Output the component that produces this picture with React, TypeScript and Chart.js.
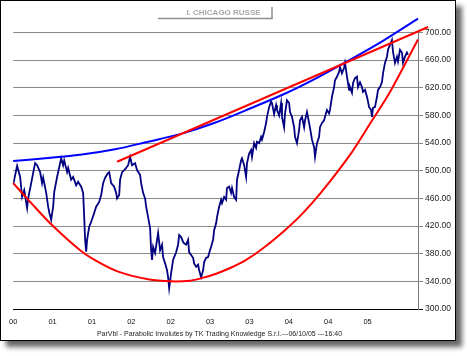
import React, { useEffect, useRef } from "react";
import { Chart, registerables } from "chart.js";

Chart.register(...registerables);

const TITLE = "I. CHICAGO RUSSE";
const FOOTER = "ParVbl - Parabolic Involutes by TK Trading Knowledge S.r.l.---06/10/05 ---16:40";

// x axis: weeks since the start of the series (Oct 2000)
const xMaxWeek = 267.3;
const xTickWeeks = [0, 26, 52, 78, 104, 130, 156, 182, 208, 234];
const xTickLabels = ["00", "01", "01", "02", "02", "03", "03", "04", "04", "05"];
const yTickValues = [300, 340, 380, 420, 460, 500, 540, 580, 620, 660, 700];

const priceWeeks = [
  0, 2.6, 4.6, 5.9, 7.3, 9.2, 9.9, 11.9, 13.2, 14.5, 15.8, 17.8, 19.1, 19.8, 21.8, 23.1, 23.8, 25.1, 26.4, 27.1,
  29.0, 30.4, 31.7, 33.0, 33.7, 35.6, 36.3, 38.3, 39.6, 41.6,
  42.9, 44.9, 46.2, 46.9, 47.5, 48.2, 48.8, 50.2, 51.5, 53.5, 54.8, 56.8, 58.1, 59.4, 60.7, 62.7, 63.4, 64.7, 66.7,
  68.0, 68.6, 70.0, 70.6, 71.9, 73.3, 74.6, 75.9, 77.2, 78.5, 80.5, 81.8, 83.8, 84.5, 85.8, 87.1, 87.8, 89.1,
  90.4, 91.1, 91.7, 92.4, 93.7, 95.0, 95.7, 97.0, 98.3, 99.0, 100.3, 101.6, 102.3, 103.0, 104.3, 105.6, 106.3,
  107.6, 108.9, 109.6, 110.9, 112.2, 112.9, 114.2, 115.5, 116.2, 117.5, 118.8, 119.5, 120.8, 122.1, 122.8, 124.1,
  125.4, 126.1, 127.4, 128.7, 129.4, 130.7, 132.0,
  132.7, 134.0, 134.6, 136.0, 137.3, 137.9, 139.3, 140.6, 141.2, 142.6, 143.9, 144.5, 145.9, 147.2, 147.8, 149.2,
  150.5, 151.1, 152.5, 153.8, 154.4, 155.8, 157.1, 157.7, 159.1, 160.4, 161.0, 162.4, 163.7, 164.3, 165.7, 167.0,
  167.6, 169.0, 170.3, 170.9, 172.3, 173.6, 174.2, 175.6, 176.9,
  177.5, 178.9, 179.5, 180.8, 182.2, 182.8, 184.1, 185.5, 186.1, 187.4, 188.8, 189.4, 190.7, 192.1, 192.7, 194.0,
  195.4, 196.0, 197.3, 198.7, 199.3, 200.6, 202.0, 202.6, 203.9, 205.3, 205.9, 207.2, 208.6, 209.2, 210.5, 211.9,
  212.5, 213.8, 215.2, 215.8, 217.1, 218.5, 219.1, 220.4, 221.8,
  222.4, 223.7, 224.4, 225.7, 227.0, 227.7, 229.0, 230.3, 231.0, 232.3, 233.6, 234.3, 235.0, 236.3, 236.9, 237.6,
  238.9, 240.2, 240.9, 242.2, 243.5, 244.2, 245.5, 246.8, 247.5, 248.8, 250.1, 250.8, 252.1, 253.4, 254.1, 255.4,
  256.7, 257.4, 258.7, 260.0, 260.7,
];

const priceValues = [
  480, 507, 491, 462, 472, 446, 460, 482, 497, 511, 508, 498, 482, 490, 468, 448, 440, 429, 448, 469,
  491, 505, 518, 508, 515, 498, 504, 487, 491, 479,
  484, 477, 468, 433, 400, 383, 400, 419, 426, 439, 448, 455, 465, 482, 490, 497, 498, 482, 477,
  468, 460, 465, 487, 498, 501, 504, 508, 520, 508, 511, 501, 494, 482, 468, 460, 448, 433,
  417, 385, 371, 390, 381, 400, 410, 385, 393, 375, 366, 356, 346, 330, 352, 371, 375,
  382, 393, 407, 404, 397, 395, 393, 400, 382, 378, 374, 366, 361, 364, 356, 346,
  356, 368, 374, 375, 381, 390, 400,
  414, 424, 433, 448, 458, 453, 462, 458, 475, 477, 468, 475, 462, 458, 487, 501,
  515, 518, 508, 491, 511, 525, 530, 520, 540, 533, 542, 540, 549, 545, 556, 569,
  578, 592, 600, 598, 582, 595, 588, 580, 598,
  578, 563, 583, 602, 598, 585, 578, 563, 549, 540, 559, 573, 578, 563, 573, 585,
  569, 562, 545, 534, 520, 540, 549, 563, 569, 573, 578, 588, 583, 588, 607, 621,
  631, 636, 643, 650, 641, 649, 656, 636, 617,
  621, 613, 627, 634, 636, 621, 628, 621, 614, 617, 607, 600, 592, 588, 578, 591,
  592, 607, 617, 621, 628, 641, 656, 665, 675, 682, 689, 672, 656, 665, 658, 675,
  671, 656, 665, 671, 668,
];

// lower parabolic involute (red)
const lowerArcWeeks = [0, 11.2, 24.4, 44.2, 56.1, 69.3, 89.1, 104.3, 116.8, 125.0, 134.0, 144.0, 153.8, 165.0, 178.9, 191.0, 203.9, 223.7, 235.6, 248.8, 267.3];
const lowerArcValues = [482, 455, 424, 385, 368, 354, 343, 340, 341, 345, 351, 360, 371, 388, 413, 438, 470, 527, 568, 614, 690];

// upper parabolic involute (blue)
const upperArcWeeks = [0, 21.1, 44.2, 67.3, 89.1, 110.2, 132.7, 156.4, 178.9, 199.3, 221.1, 244.2, 267.3];
const upperArcValues = [514, 518, 523, 531, 542, 553, 569, 590, 611, 633, 659, 688, 720];

// upper tangent (red)
const tangentWeeks = [68.6, 274];
const tangentValues = [513, 708];

const toPoints = (xs: number[], ys: number[]) =>
  xs.slice(0, Math.min(xs.length, ys.length)).map((x, i) => ({ x, y: ys[i] }));

const FONT = '"Liberation Sans", Arial, sans-serif';

const decorPlugin = {
  id: "decor",
  afterDraw(chart: any) {
    const ctx = chart.ctx as CanvasRenderingContext2D;
    ctx.save();
    // title box with bevel
    ctx.strokeStyle = "#8e8e8e";
    ctx.lineWidth = 1.5;
    ctx.beginPath();
    ctx.moveTo(157, 17.5);
    ctx.lineTo(271, 17.5);
    ctx.lineTo(271, 6);
    ctx.stroke();
    ctx.font = `bold 8px ${FONT}`;
    ctx.fillStyle = "#a8a8a8";
    ctx.textAlign = "center";
    ctx.textBaseline = "middle";
    ctx.fillText(TITLE, 222.5, 12);
    ctx.font = `7px ${FONT}`;
    ctx.fillStyle = "#222";
    ctx.fillText(FOOTER, 218.5, 333);
    ctx.restore();
  },
};

export default function App() {
  const ref = useRef<HTMLCanvasElement | null>(null);

  useEffect(() => {
    if (!ref.current) return;
    const chart = new Chart(ref.current, {
      type: "line",
      data: {
        datasets: [
          {
            data: toPoints(priceWeeks, priceValues),
            borderColor: "#000080",
            borderWidth: 1.8,
            pointRadius: 0,
            tension: 0,
            order: 4,
          },
          {
            data: toPoints(lowerArcWeeks, lowerArcValues),
            borderColor: "#ff0000",
            borderWidth: 2,
            pointRadius: 0,
            tension: 0.3,
            clip: false,
            order: 3,
          },
          {
            data: toPoints(upperArcWeeks, upperArcValues),
            borderColor: "#0000ff",
            borderWidth: 2,
            pointRadius: 0,
            tension: 0.3,
            clip: false,
            order: 2,
          },
          {
            data: toPoints(tangentWeeks, tangentValues),
            borderColor: "#ff0000",
            borderWidth: 2,
            pointRadius: 0,
            clip: false,
            order: 1,
          },
        ] as any,
      },
      options: {
        animation: false,
        responsive: false,
        events: [],
        layout: { padding: { left: 12, top: 31.5, right: 0, bottom: 0 } },
        plugins: {
          legend: { display: false },
          tooltip: { enabled: false },
          title: { display: false },
        },
        scales: {
          x: {
            type: "linear",
            min: 0,
            max: xMaxWeek,
            grid: { display: false, drawTicks: false },
            border: { display: true, color: "#000", width: 1 },
            afterBuildTicks: (s: any) => {
              s.ticks = xTickWeeks.map((v) => ({ value: v }));
            },
            afterFit: (s: any) => {
              s.height = 31;
            },
            ticks: {
              autoSkip: false,
              maxRotation: 0,
              padding: 8,
              color: "#111",
              font: { family: FONT, size: 7.5 },
              callback: (_v: any, i: number) => xTickLabels[i],
            },
          },
          y: {
            position: "right",
            min: 300,
            max: 700,
            afterBuildTicks: (s: any) => {
              s.ticks = yTickValues.map((v) => ({ value: v }));
            },
            afterFit: (s: any) => {
              s.width = 37;
            },
            grid: {
              color: (c: any) => (c.tick && c.tick.value === 300 ? "#000" : "#8a8a8a"),
              tickLength: 5,
              drawTicks: true,
            },
            border: { display: true, color: "#7a7a7a", width: 1 },
            ticks: {
              padding: 2,
              color: "#222",
              font: { family: FONT, size: 8.5 },
              callback: (v: any) => Number(v).toFixed(2),
            },
          },
        },
      } as any,
      plugins: [decorPlugin],
    });
    return () => chart.destroy();
  }, []);

  return (
    <div
      style={{
        position: "absolute",
        left: 0,
        top: 0,
        width: 467,
        height: 356,
        background: "#fff",
      }}
    >
      <div
        style={{
          position: "absolute",
          left: 0,
          top: 0,
          width: 456,
          height: 341,
          boxSizing: "border-box",
          border: "1px solid #000",
          background: "#fff",
          boxShadow: "6px 6px 5px rgba(0,0,0,0.6)",
        }}
      >
        <canvas ref={ref} width={454} height={339} style={{ display: "block" }} />
      </div>
    </div>
  );
}
